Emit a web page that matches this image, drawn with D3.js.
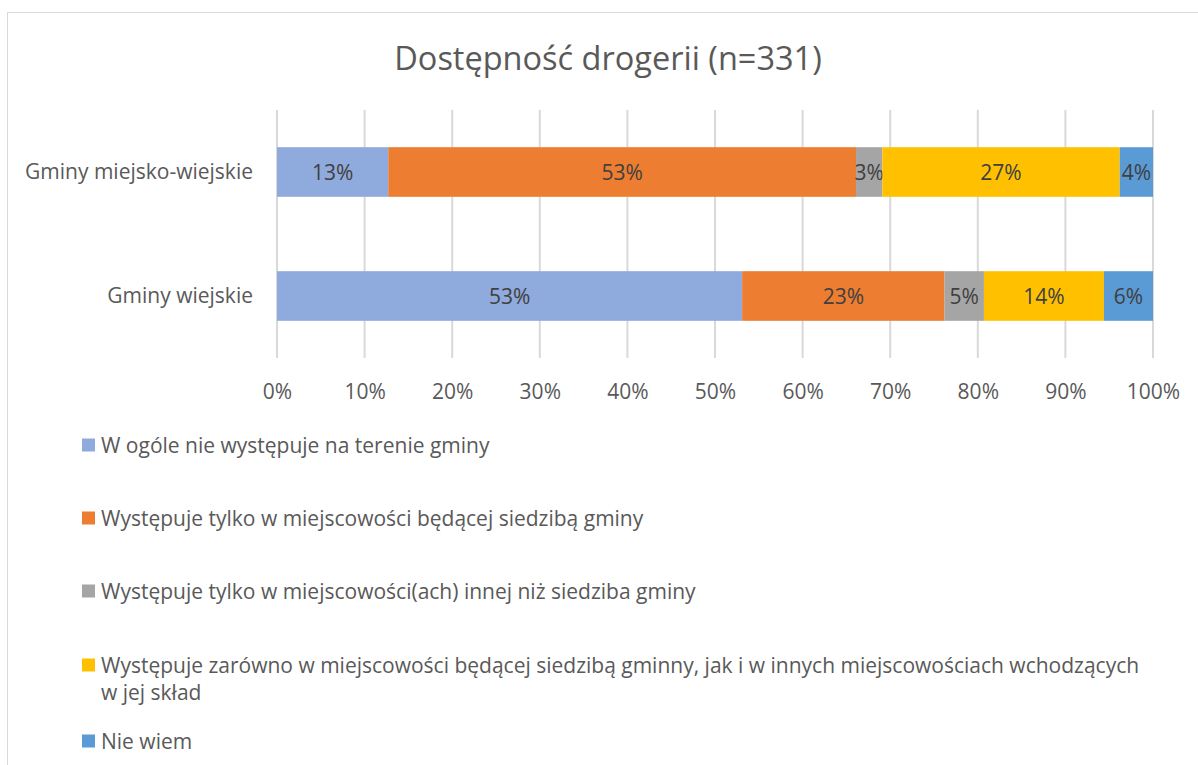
<!DOCTYPE html>
<html>
<head>
<meta charset="utf-8">
<script src="https://cdn.jsdelivr.net/npm/d3@7"></script>
<style>
  body { margin: 0; background: #fff; }
  svg { font-family: "Open Sans", "Liberation Sans", Arial, sans-serif; }
</style>
</head>
<body>
<svg id="chart" width="1198" height="765"></svg>
<script>
// data
const categories = ["Gminy miejsko-wiejskie", "Gminy wiejskie"];
const seriesNames = [
  "W ogóle nie występuje na terenie gminy",
  "Występuje tylko w miejscowości będącej siedzibą gminy",
  "Występuje tylko w miejscowości(ach) innej niż siedziba gminy",
  "Występuje zarówno w miejscowości będącej siedzibą gminny, jak i w innych miejscowościach wchodzących|w jej skład",
  "Nie wiem"
];
const miejskoWiejskie = [12.7, 53.4, 3.0, 27.1, 3.8];
const wiejskie = [53.1, 23.1, 4.5, 13.7, 5.6];
const seriesColors = ["#8FAADC", "#ED7D31", "#A5A5A5", "#FFC000", "#5B9BD5"];
const xTicks = [0, 10, 20, 30, 40, 50, 60, 70, 80, 90, 100];

const values = [miejskoWiejskie, wiejskie];

// plot area
const plotLeft = 277, plotRight = 1153;
const plotTop = 110, plotBottom = 358;
const fs = 21;

const svg = d3.select("#chart");

// outer frame of the chart
svg.append("rect")
  .attr("x", 7.5).attr("y", 12.5)
  .attr("width", 1300).attr("height", 900)
  .attr("fill", "none")
  .attr("stroke", "#d9d9d9")
  .attr("stroke-width", 1);

// title
svg.append("text")
  .attr("x", 608).attr("y", 70)
  .attr("text-anchor", "middle")
  .attr("font-size", 32.5)
  .attr("fill", "#595959")
  .text("Dostępność drogerii (n=331)");

const x = d3.scaleLinear().domain([0, 100]).range([plotLeft, plotRight]);
const y = d3.scaleBand().domain(categories).range([plotTop, plotBottom]).paddingInner(0.6).paddingOuter(0.3);

// gridlines
svg.append("g")
  .selectAll("line")
  .data(xTicks)
  .join("line")
  .attr("x1", d => x(d)).attr("x2", d => x(d))
  .attr("y1", plotTop).attr("y2", plotBottom)
  .attr("stroke", "#d9d9d9")
  .attr("stroke-width", 2);

// x axis labels
const xAxis = d3.axisBottom(x).tickValues(xTicks).tickSize(0).tickFormat(d => d + "%");
const gx = svg.append("g")
  .attr("transform", `translate(0,${plotBottom + 23})`)
  .call(xAxis);
gx.select(".domain").remove();
gx.selectAll("text")
  .attr("font-size", fs)
  .attr("font-family", "Open Sans, sans-serif")
  .attr("fill", "#595959");

// category labels
const yAxis = d3.axisLeft(y).tickSize(0).tickPadding(24);
const gy = svg.append("g")
  .attr("transform", `translate(${plotLeft},0)`)
  .call(yAxis);
gy.select(".domain").remove();
gy.selectAll("text")
  .attr("font-size", fs)
  .attr("font-family", "Open Sans, sans-serif")
  .attr("fill", "#595959");

// stacked bars
categories.forEach((cat, ci) => {
  let acc = 0;
  const g = svg.append("g");
  values[ci].forEach((v, si) => {
    const x0 = acc, x1 = acc + v;
    acc = x1;
    g.append("rect")
      .attr("x", x(x0))
      .attr("y", y(cat))
      .attr("width", x(x1) - x(x0))
      .attr("height", y.bandwidth())
      .attr("fill", seriesColors[si]);
    g.append("text")
      .attr("x", (x(x0) + x(x1)) / 2)
      .attr("y", y(cat) + y.bandwidth() / 2)
      .attr("dy", "0.36em")
      .attr("text-anchor", "middle")
      .attr("font-size", fs)
      .attr("fill", "#404040")
      .text(Math.round(v) + "%");
  });
});

// legend
const legendY = [445, 518, 591, 665, 741];
const legend = svg.append("g");
seriesNames.forEach((name, i) => {
  legend.append("rect")
    .attr("x", 82).attr("y", legendY[i] - 6.5)
    .attr("width", 13).attr("height", 13)
    .attr("fill", seriesColors[i]);
  const t = legend.append("text")
    .attr("x", 101).attr("y", legendY[i])
    .attr("font-size", fs)
    .attr("fill", "#595959");
  name.split("|").forEach((line, li) => {
    t.append("tspan")
      .attr("x", 101)
      .attr("dy", li === 0 ? "0.36em" : 27)
      .text(line);
  });
});
</script>
</body>
</html>
